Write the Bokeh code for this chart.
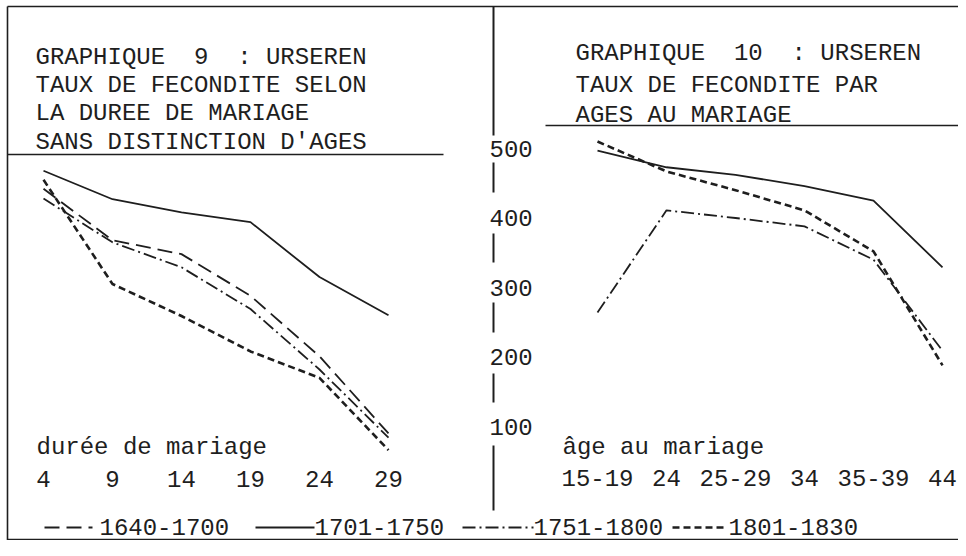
from bokeh.plotting import figure
from bokeh.models import Range1d
from bokeh.core.properties import value
from bokeh.embed import file_html
from bokeh.resources import INLINE

# ---------------- data ----------------
periods = ["1640-1700", "1701-1750", "1751-1800", "1801-1830"]

# Graphique 9 : durée de mariage
dur = [4, 9, 14, 19, 24, 29]
left_1640 = [442, 368, 348, 288, 201, 90]
left_1701 = [468, 427, 408, 394, 315, 260]
left_1751 = [428, 365, 329, 269, 182, 84]
left_1801 = [455, 305, 259, 208, 170, 66]

# Graphique 10 : âge au mariage
ages = ["15-19", "24", "25-29", "34", "35-39", "44"]
right_1701 = [497, 473, 462, 446, 425, 329]
right_1751 = [264, 411, 400, 388, 340, 209]
right_1801 = [510, 467, 440, 411, 352, 188]

yticks = [500, 400, 300, 200, 100]
ytick_labels = ["500", "400", "300", "200", "100"]

left_title = ["GRAPHIQUE  9  : URSEREN", "TAUX DE FECONDITE SELON",
              "LA DUREE DE MARIAGE", "SANS DISTINCTION D'AGES"]
right_title = ["GRAPHIQUE  10  : URSEREN", "TAUX DE FECONDITE PAR",
               "AGES AU MARIAGE"]
left_xlabel = "durée de mariage"
right_xlabel = "âge au mariage"


def keep_spaces(s):
    return s.replace(" ", "\u00a0")


# ---------------- styles ----------------
INK = "#1e1e1e"
FONT = value("Liberation Mono")
FS = "24px"
style = {
    "1640-1700": dict(line_dash="15 7", line_width=1.8),
    "1701-1750": dict(line_dash="solid", line_width=1.8),
    "1751-1800": dict(line_dash="13 4 2 4", line_width=1.8),
    "1801-1830": dict(line_dash="7 4", line_width=2.6),
}

# ---------------- figure (pixel frame) ----------------
W, H = 958, 540
p = figure(width=W, height=H, output_backend="svg", toolbar_location=None,
           x_range=Range1d(0, W), y_range=Range1d(H, 0),
           x_axis_location=None, y_axis_location=None, min_border=0)
p.grid.visible = False
p.outline_line_color = None
p.background_fill_color = "white"
p.border_fill_color = "white"

# scales for data
dx0, dpx0, dstep = 4, 43.0, 13.8           # durée: value 4 at x=43, 13.8 px/unit
ax0, astep = 597.0, 69.0                   # age index 0 at x=597
r0, rpx0, rstep = 500, 148.0, 0.695        # rate 500 at y=148, 0.695 px/unit
p.extra_x_ranges = {
    "dur": Range1d(dx0 + (0 - dpx0) / dstep, dx0 + (W - dpx0) / dstep),
    "age": Range1d((0 - ax0) / astep, (W - ax0) / astep),
}
p.extra_y_ranges = {
    "rate": Range1d(r0 - (H - rpx0) / rstep, r0 + rpx0 / rstep),
}

# ---------------- frame & rules ----------------
p.segment(x0=[7, 7, 7, 7, 545], y0=[6, 6, 539, 154, 125],
          x1=[W, 7, W, 443, W], y1=[6, H, 539, 154, 125],
          line_color=INK, line_width=1.6)
# central divider / axis made of typed pipes
div_y0 = [6, 162, 233, 302, 373, 445]
div_y1 = [135, 192, 262, 332, 402, 510]
p.segment(x0=[493] * 6, y0=div_y0, x1=[493] * 6, y1=div_y1,
          line_color=INK, line_width=2)

# ---------------- titles ----------------
p.text(x=[35] * 4, y=[56.5, 85, 113, 141.5], text=[keep_spaces(t) for t in left_title],
       text_font=FONT, text_font_size=FS, text_color=INK,
       text_baseline="alphabetic", text_align="left")
p.text(x=[575] * 3, y=[53, 85, 115], text=[keep_spaces(t) for t in right_title],
       text_font=FONT, text_font_size=FS, text_color=INK,
       text_baseline="alphabetic", text_align="left")

# ---------------- y tick labels ----------------
p.text(x=[489] * len(yticks), y=yticks, text=ytick_labels, y_range_name="rate",
       text_font=FONT, text_font_size=FS, text_color=INK,
       text_baseline="middle", text_align="left")

# ---------------- x labels ----------------
p.text(x=[36], y=[447], text=[keep_spaces(left_xlabel)], text_font=FONT, text_font_size=FS,
       text_color=INK, text_baseline="alphabetic", text_align="left")
p.text(x=dur, y=[478] * len(dur), text=[str(d) for d in dur], x_range_name="dur",
       text_font=FONT, text_font_size=FS, text_color=INK,
       text_baseline="alphabetic", text_align="center")
p.text(x=[562], y=[447], text=[keep_spaces(right_xlabel)], text_font=FONT, text_font_size=FS,
       text_color=INK, text_baseline="alphabetic", text_align="left")
p.text(x=list(range(len(ages))), y=[477] * len(ages), text=ages, x_range_name="age",
       text_font=FONT, text_font_size=FS, text_color=INK,
       text_baseline="alphabetic", text_align="center")

# ---------------- data lines ----------------
left = {"1640-1700": left_1640, "1701-1750": left_1701,
        "1751-1800": left_1751, "1801-1830": left_1801}
for k, v in left.items():
    p.line(dur, v, x_range_name="dur", y_range_name="rate",
           line_color=INK, **style[k])

right = {"1701-1750": right_1701, "1751-1800": right_1751, "1801-1830": right_1801}
idx = list(range(len(ages)))
for k, v in right.items():
    p.line(idx, v, x_range_name="age", y_range_name="rate",
           line_color=INK, **style[k])

# ---------------- legend (typed line) ----------------
leg_line_x0 = [44, 255, 462, 672]
leg_line_x1 = [92, 314, 533, 727]
leg_text_x = [99, 314, 533, 728]
for i, k in enumerate(periods):
    p.line([leg_line_x0[i], leg_line_x1[i]], [527, 527], line_color=INK, **style[k])
p.text(x=leg_text_x, y=[526] * 4, text=periods, text_font=FONT, text_font_size=FS,
       text_color=INK, text_baseline="middle", text_align="left")

open("out.html", "w").write(file_html(p, INLINE))
